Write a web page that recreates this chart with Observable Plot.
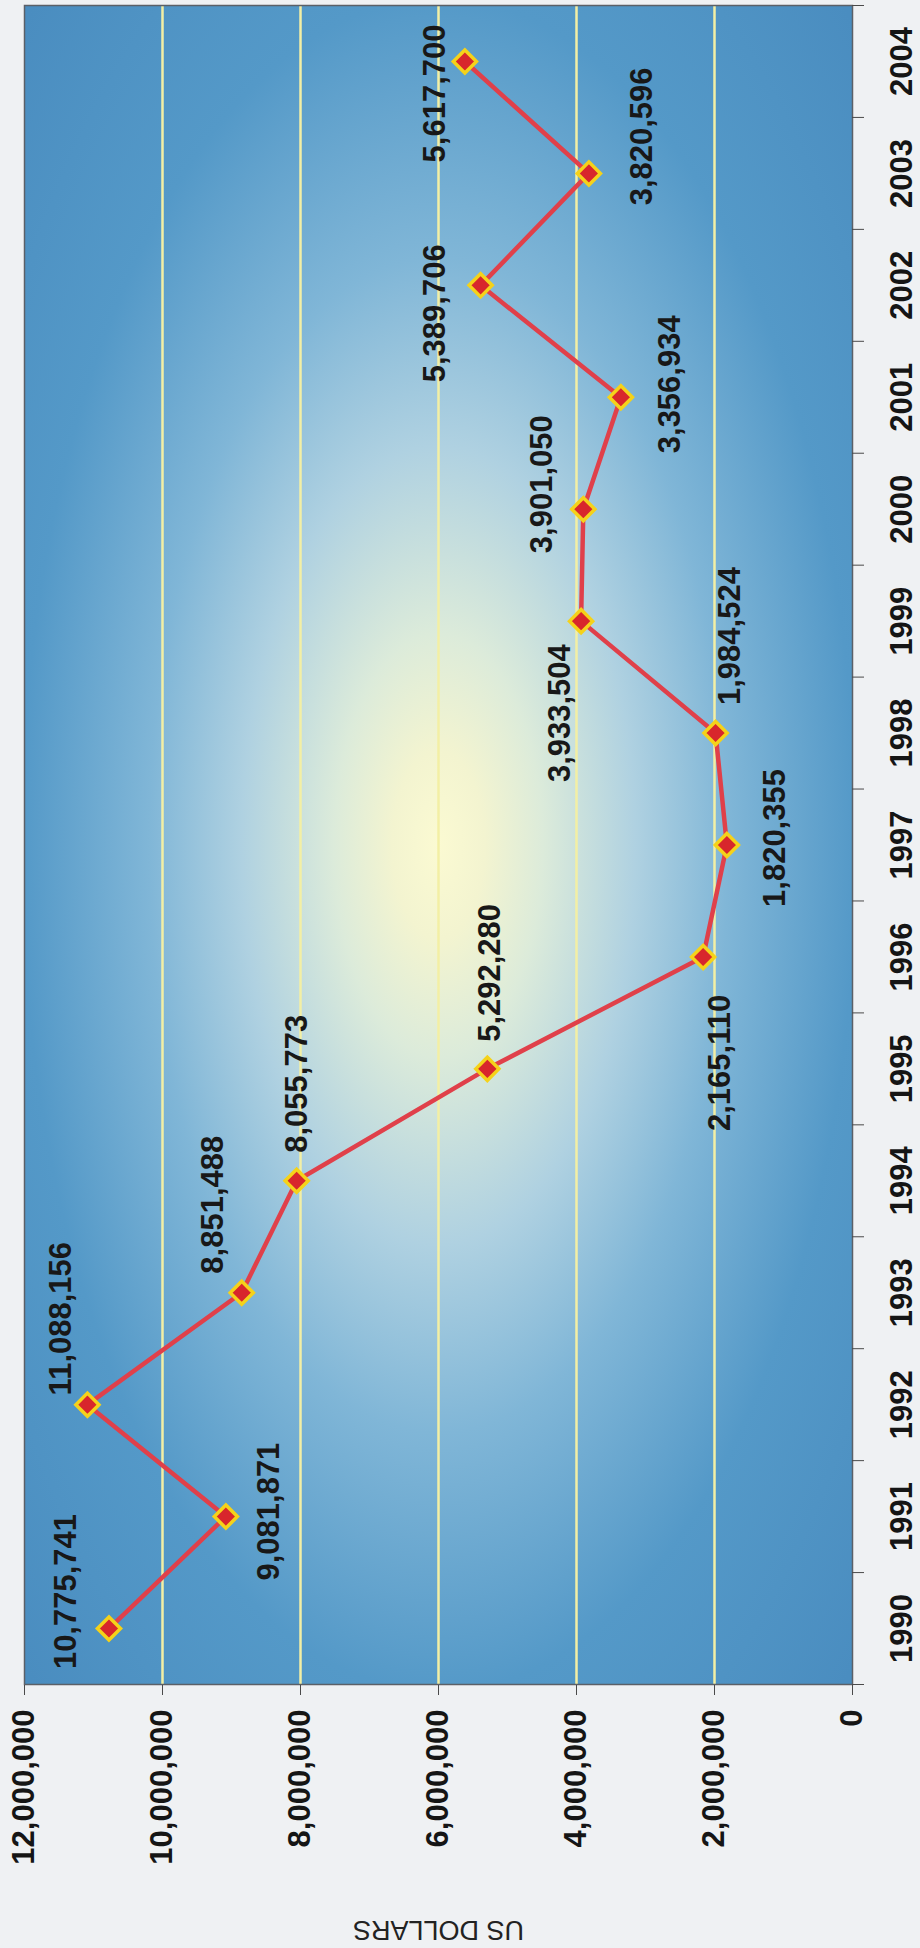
<!DOCTYPE html>
<html>
<head>
<meta charset="utf-8">
<script src="https://cdn.jsdelivr.net/npm/d3@7"></script>
<script src="https://cdn.jsdelivr.net/npm/@observablehq/plot@0.6"></script>
<style>
  html, body { margin: 0; padding: 0; width: 920px; height: 1948px; overflow: hidden; background: #eff1f3; }
  /* The chart is laid out landscape and turned a quarter-turn counterclockwise onto the portrait page. */
  #chart { position: absolute; left: 0; top: 0; width: 1948px; height: 920px;
           transform-origin: 0 0; transform: translate(0, 1948px) rotate(-90deg); }
</style>
</head>
<body>
<div id="chart"></div>
<script>
// Annual amounts in US dollars
const years = [1990, 1991, 1992, 1993, 1994, 1995, 1996, 1997, 1998, 1999, 2000, 2001, 2002, 2003, 2004];
const values = [10775741, 9081871, 11088156, 8851488, 8055773, 5292280, 2165110, 1820355, 1984524, 3933504, 3901050, 3356934, 5389706, 3820596, 5617700];
const valueTicks = [0, 2000000, 4000000, 6000000, 8000000, 10000000, 12000000];
const valueTitle = "US DOLLARS";

// Where each value label sits relative to its marker (pixels, landscape frame)
const labelDx = [37, 5, 86, 88, 97, 96, -106, 7, 97, -92, 25, 13, -28, 37, -32];
const labelDy = [-43, 43, -26, -29, 0, 3, 17, 48, 15, -21, -41, 49, -46, 53, -30];

const data = years.map((year, i) => ({year, value: values[i]}));
const fmt = d3.format(",");
const boundaries = [...years.map(y => y - 0.5), years[years.length - 1] + 0.5];
const font = "'Liberation Sans', Arial, Helvetica, sans-serif";

const valueLabels = data.map((d, i) =>
  Plot.text([d], {
    x: "year", y: "value", text: r => fmt(r.value),
    dx: labelDx[i], dy: labelDy[i],
    fill: "#181818", fontSize: 31, fontWeight: "bold"
  })
);

const chart = Plot.plot({
  width: 1948,
  height: 920,
  marginLeft: 263,
  marginRight: 6,
  marginTop: 24,
  marginBottom: 68,
  style: {fontFamily: font, fontSize: "31px", fontWeight: "bold", color: "#151515", background: "transparent", overflow: "visible"},
  x: {type: "linear", domain: [years[0] - 0.5, years[years.length - 1] + 0.5]},
  y: {domain: [valueTicks[0], valueTicks[valueTicks.length - 1]]},
  marks: [
    Plot.frame({fill: "url(#plotGlow)"}),
    Plot.ruleY(valueTicks.slice(1, -1), {stroke: "#f3efa4", strokeWidth: 2.5}),
    Plot.frame({stroke: "#5b6067", strokeWidth: 1.5}),
    Plot.axisY({ticks: valueTicks, tickFormat: fmt, tickSize: 10, tickPadding: 15, label: null, stroke: "#4a4a4a"}),
    Plot.axisX({ticks: years, tickSize: 0, tickPadding: 37, tickFormat: d => String(d), label: null}),
    Plot.axisX({ticks: boundaries, tickSize: 12, tickFormat: () => "", label: null, stroke: "#4a4a4a"}),
    Plot.line(data, {x: "year", y: "value", stroke: "#e0404a", strokeWidth: 4.5}),
    Plot.dot(data, {x: "year", y: "value", symbol: "diamond2", r: 10.4, fill: "#d8262c", stroke: "#f5d21a", strokeWidth: 3.5}),
    ...valueLabels,
    Plot.text([valueTitle], {
      frameAnchor: "left", textAnchor: "middle", lineAnchor: "middle",
      dx: -245, rotate: -90, text: d => d,
      fontSize: 27, fontWeight: "normal", fill: "#222"
    })
  ]
});

// Soft centred glow behind the plot area
const defs = d3.select(chart).insert("defs", ":first-child");
const grad = defs.append("radialGradient").attr("id", "plotGlow")
  .attr("cx", 0.5).attr("cy", 0.5).attr("r", 0.7);
[
  [0, "#fbfad2"], [0.08, "#f3f4d0"], [0.18, "#dcebda"], [0.34, "#afd1e1"],
  [0.5, "#80b6d7"], [0.72, "#5499c8"], [1, "#4a8dc0"]
].forEach(([o, c]) => grad.append("stop").attr("offset", o).attr("stop-color", c));

document.getElementById("chart").appendChild(chart);
</script>
</body>
</html>
